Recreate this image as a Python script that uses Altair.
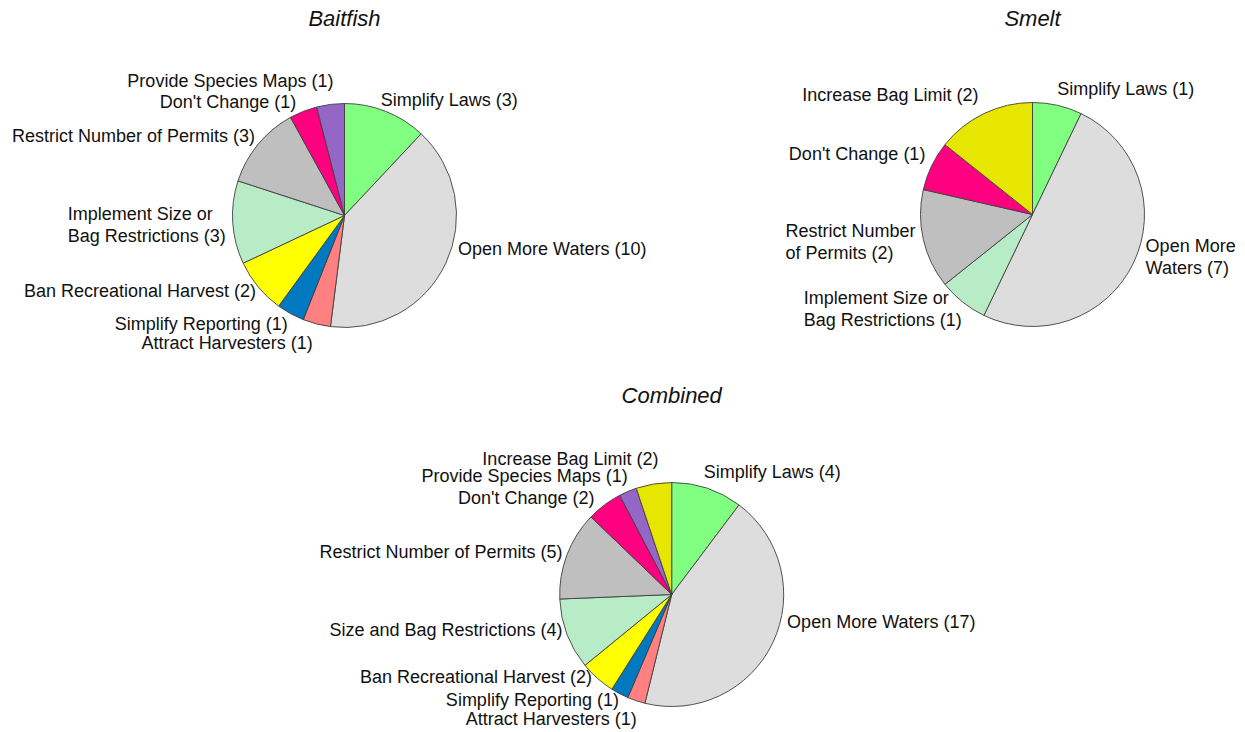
import math
import altair as alt
import pandas as pd

# Colour per answer category (shared by all three pies)
CATEGORIES = [
    "Simplify Laws", "Open More Waters", "Attract Harvesters", "Simplify Reporting",
    "Ban Recreational Harvest", "Size and Bag Restrictions", "Restrict Number of Permits",
    "Don't Change", "Provide Species Maps", "Increase Bag Limit",
]
COLORS = [
    "#80FF80", "#DDDDDD", "#FF8080", "#0079C1",
    "#FFFF00", "#B8ECC6", "#BFBFBF",
    "#FF0080", "#9467C6", "#E6E600",
]

# Baitfish responses (clockwise from 12 o'clock)
baitfish_categories = [
    "Simplify Laws", "Open More Waters", "Attract Harvesters", "Simplify Reporting",
    "Ban Recreational Harvest", "Size and Bag Restrictions", "Restrict Number of Permits",
    "Don't Change", "Provide Species Maps",
]
baitfish_labels = [
    "Simplify  Laws", "Open More Waters", "Attract Harvesters", "Simplify Reporting",
    "Ban Recreational Harvest", "Implement Size or\nBag Restrictions", "Restrict Number  of Permits",
    "Don't Change", "Provide Species Maps",
]
baitfish_counts = [3, 10, 1, 1, 2, 3, 3, 1, 1]

# Smelt responses
smelt_categories = [
    "Simplify Laws", "Open More Waters", "Size and Bag Restrictions",
    "Restrict Number of Permits", "Don't Change", "Increase Bag Limit",
]
smelt_labels = [
    "Simplify  Laws", "Open More\nWaters", "Implement Size or\nBag Restrictions",
    "Restrict Number\nof Permits", "Don't Change ", "Increase Bag Limit",
]
smelt_counts = [1, 7, 1, 2, 1, 2]

# Combined responses
combined_categories = [
    "Simplify Laws", "Open More Waters", "Attract Harvesters", "Simplify Reporting",
    "Ban Recreational Harvest", "Size and Bag Restrictions", "Restrict Number of Permits",
    "Don't Change", "Provide Species Maps", "Increase Bag Limit",
]
combined_labels = [
    "Simplify  Laws", "Open More Waters", "Attract Harvesters", "Simplify Reporting",
    "Ban Recreational Harvest", "Size and Bag Restrictions", "Restrict Number  of Permits",
    "Don't Change", "Provide Species Maps", "Increase Bag Limit",
]
combined_counts = [4, 17, 1, 1, 2, 4, 5, 2, 1, 2]

PIES = [
    ("Baitfish", baitfish_categories, baitfish_labels, baitfish_counts),
    ("Smelt", smelt_categories, smelt_labels, smelt_counts),
    ("Combined", combined_categories, combined_labels, combined_counts),
]

rows = []
for pie, cats, labels, counts in PIES:
    for i, (c, l, v) in enumerate(zip(cats, labels, counts)):
        rows.append({"pie": pie, "order": i, "category": c, "label": l, "value": v})
data = pd.DataFrame(rows)

# Layout: pie centre (px), radius, title position
CENTERS = {"Baitfish": (344.5, 215.5), "Smelt": (1032.5, 214.5), "Combined": (671.7, 594.5)}
RADIUS = 112
LABEL_RADIUS = 120
TITLE_Y = {"Baitfish": 19, "Smelt": 19, "Combined": 396}

# Per-label alignment and pixel nudges from the rim anchor point
LABEL_PLACEMENT = {
    "Baitfish": {
        "Simplify Laws": ("left", -8, -3),
        "Open More Waters": ("left", 5, -17),
        "Attract Harvesters": ("right", -2, 12),
        "Simplify Reporting": ("right", 1, 4),
        "Ban Recreational Harvest": ("right", 4, 0),
        "Size and Bag Restrictions": ("left", -157, -8),
        "Restrict Number of Permits": ("right", 3, -2),
        "Don't Change": ("right", -4, -1),
        "Provide Species Maps": ("right", 4, -14),
    },
    "Smelt": {
        "Simplify Laws": ("left", -2, -8),
        "Open More Waters": ("left", 5, -20),
        "Size and Bag Restrictions": ("left", -154, -9),
        "Restrict Number of Permits": ("left", -130, -9),
        "Don't Change": ("right", 1, -7),
        "Increase Bag Limit": ("right", -2, -10),
    },
    "Combined": {
        "Simplify Laws": ("left", -6, -8),
        "Open More Waters": ("left", 7, -23),
        "Attract Harvesters": ("right", 3, 12),
        "Simplify Reporting": ("right", 3, 0),
        "Ban Recreational Harvest": ("right", 0, -6),
        "Size and Bag Restrictions": ("right", 3, -6),
        "Restrict Number of Permits": ("right", 3, 1),
        "Don't Change": ("right", -5, 0),
        "Provide Species Maps": ("right", 3, -7),
        "Increase Bag Limit": ("right", 6, -16),
    },
}

FONT = "Liberation Sans"
theta_scale = alt.Scale(domain=[0, 1], range=[0, 2 * math.pi])
color_scale = alt.Scale(domain=CATEGORIES, range=COLORS)


def pie_base(pie):
    return (
        alt.Chart(data)
        .transform_filter(alt.FieldEqualPredicate(field="pie", equal=pie))
        .transform_joinaggregate(total="sum(value)")
        .transform_window(cum="sum(value)", sort=[alt.SortField("order")], frame=[None, 0])
        .transform_calculate(
            start="(datum.cum - datum.value) / datum.total",
            end="datum.cum / datum.total",
            mid="(datum.cum - datum.value / 2) / datum.total",
            text="datum.label + ' (' + datum.value + ')'",
        )
    )


layers = []
for pie, cats, _, _ in PIES:
    cx, cy = CENTERS[pie]
    base = pie_base(pie)
    slices = base.mark_arc(
        outerRadius=RADIUS, stroke="#404040", strokeWidth=0.9
    ).encode(
        x=alt.value(cx),
        y=alt.value(cy),
        theta=alt.Theta("start:Q", scale=theta_scale, stack=False),
        theta2="end:Q",
        color=alt.Color("category:N", scale=color_scale, legend=None),
        order=alt.Order("order:Q"),
    )
    layers.append(slices)

    for cat in cats:
        align, dx, dy = LABEL_PLACEMENT[pie][cat]
        lbl = base.transform_filter(
            alt.FieldEqualPredicate(field="category", equal=cat)
        ).mark_text(
            radius=LABEL_RADIUS, align=align, baseline="middle", dx=dx, dy=dy,
            font=FONT, fontSize=18, lineHeight=22, lineBreak="\n", color="#111111",
        ).encode(
            x=alt.value(cx),
            y=alt.value(cy),
            theta=alt.Theta("mid:Q", scale=theta_scale, stack=False),
            text="text:N",
        )
        layers.append(lbl)

    title = alt.Chart(pd.DataFrame({"name": [pie]})).mark_text(
        font=FONT, fontSize=22, fontStyle="italic", align="center",
        baseline="middle", color="#111111",
    ).encode(
        x=alt.value(cx),
        y=alt.value(TITLE_Y[pie]),
        text="name:N",
    )
    layers.append(title)

chart = (
    alt.layer(*layers)
    .properties(width=1245, height=732, autosize="none", padding=0, background="white")
    .configure_view(stroke=None)
)

chart.save("out.html", embed_options={"renderer": "svg", "actions": False})
